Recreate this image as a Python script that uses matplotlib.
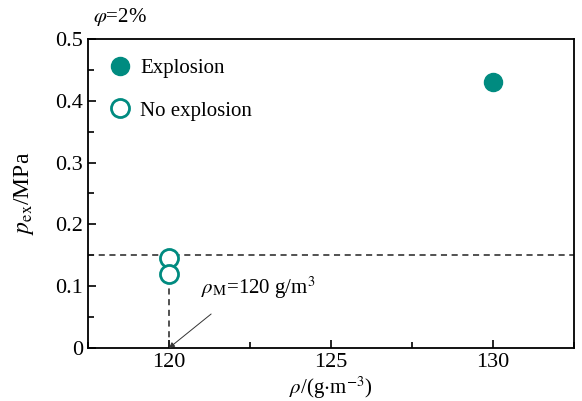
import matplotlib.pyplot as plt
from matplotlib.ticker import MultipleLocator

plt.rcParams['font.family'] = ['Liberation Serif', 'DejaVu Serif']
plt.rcParams['mathtext.fontset'] = 'stix'

# data
expl_rho = [130]
expl_p = [0.43]
noexpl_rho = [120, 120]
noexpl_p = [0.145, 0.12]
p_limit = 0.15
rho_m = 120

teal = '#008b80'

fig = plt.figure(figsize=(5.82, 4.01), dpi=100)
ax = fig.add_axes([88 / 582, 53 / 401, 486 / 582, 309 / 401])

ax.plot(expl_rho, expl_p, 'o', color=teal, ms=13, label='Explosion', zorder=3)
ax.plot(noexpl_rho, noexpl_p, 'o', mfc='white', mec=teal, mew=2, ms=13,
        label='No explosion', zorder=3)

ax.axhline(p_limit, color='#222222', ls='--', lw=1.1, dashes=(4, 3))
ax.plot([rho_m, rho_m], [0, 0.105], color='#222222', ls='--', lw=1.1, dashes=(4, 3))

ax.text(121.0, 0.097, r'$\rho_{\mathrm{M}}$=120 g/m$^3$', fontsize=15,
        ha='left', va='center')
ax.annotate('', xy=(rho_m, 0), xytext=(121.3, 0.055),
            arrowprops=dict(arrowstyle='-|>', color='#333333', lw=0.7,
                            mutation_scale=8, shrinkA=0, shrinkB=0))

ax.set_xlim(117.5, 132.5)
ax.set_ylim(0, 0.5)
ax.xaxis.set_major_locator(MultipleLocator(5))
ax.xaxis.set_minor_locator(MultipleLocator(2.5))
ax.yaxis.set_major_locator(MultipleLocator(0.1))
ax.yaxis.set_minor_locator(MultipleLocator(0.05))
ax.tick_params(which='both', direction='in', labelsize=16, top=False, right=False)
ax.tick_params(which='major', length=6, width=1.2)
ax.tick_params(which='minor', length=4, width=1.2)
ax.set_yticks([0, 0.1, 0.2, 0.3, 0.4, 0.5])
ax.set_yticklabels(['0', '0.1', '0.2', '0.3', '0.4', '0.5'])
for s in ax.spines.values():
    s.set_linewidth(1.3)

ax.set_xlabel(r'$\rho$/(g$\cdot$m$^{-3}$)', fontsize=15, labelpad=2)
ax.set_ylabel(r'$p_{\mathrm{ex}}$/MPa', fontsize=17, labelpad=14)
fig.text(93 / 582, 1 - 17 / 401, r'$\varphi$=2%', fontsize=15, ha='left', va='center')

ax.legend(loc='upper left', frameon=False, fontsize=15, handlelength=1.2,
          handletextpad=0.36, labelspacing=1.1, borderaxespad=0.54,
          bbox_to_anchor=(0.0, 1.0))

fig.savefig('out.png', dpi=100)
